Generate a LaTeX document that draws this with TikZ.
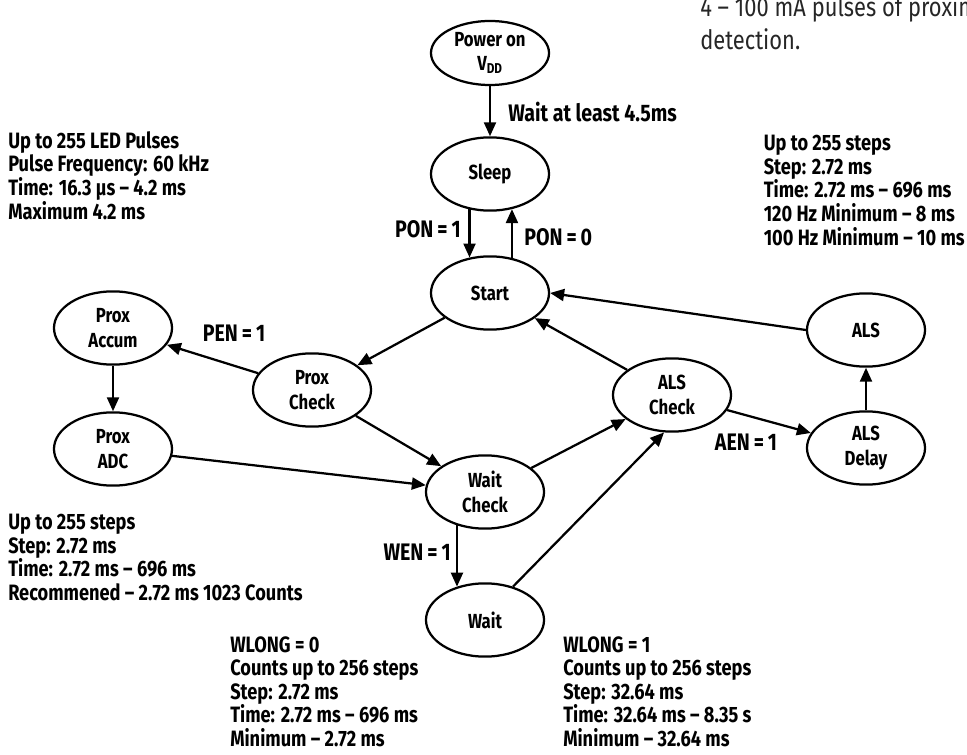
\documentclass[tikz,border=0pt]{standalone}
\usepackage{fontspec}
\setmainfont{Fira Sans}[FakeStretch=0.82]
\newfontfamily\bodyfont{Fira Sans}[FakeStretch=0.82]
\usetikzlibrary{shapes.geometric,arrows.meta}

\begin{document}
\begin{tikzpicture}[x=0.025cm, y=-0.025cm,
		state/.style={ellipse, draw, line width=1.6pt, minimum width=2.95cm, minimum height=1.83cm, inner sep=0pt, align=center, font=\bfseries\fontsize{14.5}{17.5}\selectfont},
		flow/.style={-{Triangle[length=3.5mm, width=3mm]}, line width=1.6pt},
		cond/.style={inner sep=0pt, font=\bfseries\fontsize{17}{19}\selectfont},
		note/.style={inner sep=0pt, align=left, font=\bfseries\fontsize{15.8}{16.8}\selectfont}]
		\useasboundingbox (0,0) rectangle (967,755);
		\clip (0,0) rectangle (967,755);
		% states
		\node[state, minimum height=1.6cm] (power) at (490,53) {Power on\\V\textsubscript{DD}};
		\node[state] (sleep) at (490,174) {Sleep};
		\node[state] (start) at (490,293) {Start};
		\node[state] (proxaccum) at (113,328) {Prox\\Accum};
		\node[state] (proxadc) at (113,449) {Prox\\ADC};
		\node[state] (proxcheck) at (312,390) {Prox\\Check};
		\node[state] (waitcheck) at (485,492) {Wait\\Check};
		\node[state] (wait) at (485,620) {Wait};
		\node[state] (alscheck) at (672,395) {ALS\\Check};
		\node[state] (als) at (866,330) {ALS};
		\node[state] (alsdelay) at (866,448) {ALS\\Delay};
		% transitions
		\draw[flow] (power) -- (sleep);
		\draw[flow] (sleep.240) -- (start.120);
		\draw[flow] (start.58) -- (sleep.302);
		\draw[flow] (start) -- (proxcheck);
		\draw[flow] (proxcheck) -- (proxaccum);
		\draw[flow] (proxaccum) -- (proxadc);
		\draw[flow] (proxadc) -- (waitcheck);
		\draw[flow] (proxcheck) -- (waitcheck);
		\draw[flow] (waitcheck) -- (alscheck);
		\draw[flow] (waitcheck.230) -- (wait.130);
		\draw[flow] (wait.50) -- (alscheck.258);
		\draw[flow] (alscheck) -- (start);
		\draw[flow] (alscheck) -- (alsdelay);
		\draw[flow] (alsdelay) -- (als);
		\draw[flow] (als.west) -- (start.east);
		% conditions
		\node[cond, anchor=west] (lwait) at (508,112) {Wait at least 4.5ms};
		\node[cond, anchor=east] (lpon1) at (461,229) {PON\,=\,1};
		\node[cond, anchor=west] (lpon0) at (524,237) {PON\,=\,0};
		\node[cond] (lpen) at (234,333) {PEN\,=\,1};
		\node[cond] (laen) at (746,442) {AEN\,=\,1};
		\node[cond, anchor=east] (lwen) at (451,552) {WEN\,=\,1};
		% timing notes
		\node[note, anchor=north west] (nled) at (8,131) {Up to 255 LED Pulses\\Pulse Frequency: 60 kHz\\Time: 16.3 µs – 4.2 ms\\Maximum 4.2 ms};
		\node[note, anchor=north east] (nals) at (965,135) {Up to 255 steps\\Step: 2.72 ms\\Time: 2.72 ms – 696 ms\\120 Hz Minimum – 8 ms\\100 Hz Minimum – 10 ms};
		\node[note, anchor=north west] (nadc) at (8,514) {Up to 255 steps\\Step: 2.72 ms\\Time: 2.72 ms – 696 ms\\Recommened – 2.72 ms 1023 Counts};
		\node[note, anchor=north west] (nw0) at (230,636) {WLONG = 0\\Counts up to 256 steps\\Step: 2.72 ms\\Time: 2.72 ms – 696 ms\\Minimum – 2.72 ms};
		\node[note, anchor=north west] (nw1) at (563,636) {WLONG = 1\\Counts up to 256 steps\\Step: 32.64 ms\\Time: 32.64 ms – 8.35 s\\Minimum – 32.64 ms};
		\node[inner sep=0pt, anchor=north west, align=left, text=black!85, font=\bodyfont\fontsize{19}{23.4}\selectfont] (ntop) at (700,-5) {4 – 100 mA pulses of proxim\\detection.};
\end{tikzpicture}
\end{document}
